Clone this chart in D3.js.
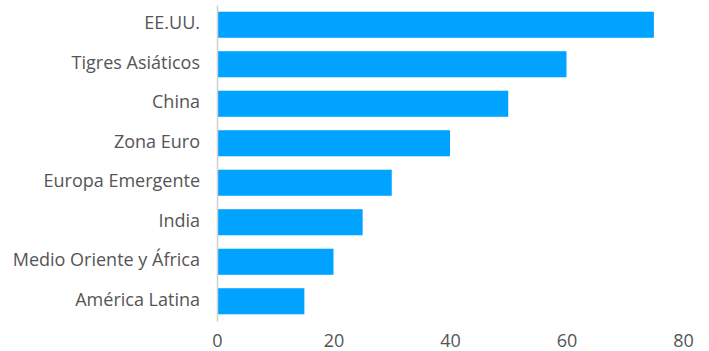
<!DOCTYPE html>
<html>
<head>
<meta charset="utf-8">
<script src="https://cdn.jsdelivr.net/npm/d3@7"></script>
<style>
  html, body { margin: 0; padding: 0; background: #fff; }
  svg { display: block; font-family: "Open Sans", sans-serif; }
</style>
</head>
<body>
<svg id="chart" width="709" height="351"></svg>
<script>
// Regions, top to bottom
const regions = ["EE.UU.", "Tigres Asiáticos", "China", "Zona Euro", "Europa Emergente", "India", "Medio Oriente y África", "América Latina"];
// Bar values per region
const values = [75, 60, 50, 40, 30, 25, 20, 15];
// X-axis ticks
const xTicks = [0, 20, 40, 60, 80];

const svg = d3.select("#chart");
const margin = { top: 5, right: 26, bottom: 30, left: 217 };
const width = 709 - margin.left - margin.right;
const plotH = 316;

const g = svg.append("g").attr("transform", `translate(${margin.left},${margin.top})`);

const x = d3.scaleLinear().domain([0, 80]).range([0, width]);
const y = d3.scaleBand().domain(regions).range([0, plotH]).paddingInner(0.34).paddingOuter(0.17);

const data = regions.map((r, i) => ({ region: r, value: values[i] }));

g.selectAll("rect.bar")
  .data(data)
  .join("rect")
  .attr("class", "bar")
  .attr("x", x(0))
  .attr("y", d => y(d.region))
  .attr("width", d => x(d.value) - x(0))
  .attr("height", y.bandwidth())
  .attr("fill", "#00a3ff");

// Category axis
const yAxis = g.append("g").call(d3.axisLeft(y).tickSize(0).tickPadding(17));
yAxis.select(".domain").attr("stroke", "#d0d0d0").attr("stroke-width", 1.5);
yAxis.selectAll("text")
  .attr("font-size", 18)
  .attr("dy", "0.25em")
  .attr("fill", "#555")
  .attr("font-family", "Open Sans, sans-serif");

// Value axis (labels only)
const xAxis = g.append("g")
  .attr("transform", `translate(0,${plotH})`)
  .call(d3.axisBottom(x).tickValues(xTicks).tickSize(0).tickPadding(13));
xAxis.select(".domain").remove();
xAxis.selectAll("text").attr("font-size", 18).attr("fill", "#555").attr("font-family", "Open Sans, sans-serif");
</script>
</body>
</html>
